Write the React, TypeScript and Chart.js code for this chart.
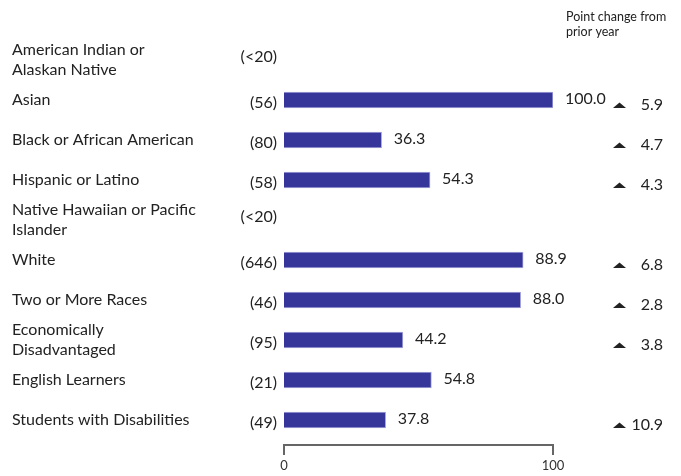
import React, { useEffect, useRef } from "react";
import { Chart, registerables } from "chart.js";

Chart.register(...registerables);

const categories: string[][] = [
  ["American Indian or", "Alaskan Native"],
  ["Asian"],
  ["Black or African American"],
  ["Hispanic or Latino"],
  ["Native Hawaiian or Pacific", "Islander"],
  ["White"],
  ["Two or More Races"],
  ["Economically", "Disadvantaged"],
  ["English Learners"],
  ["Students with Disabilities"],
];
const counts: string[] = ["(<20)", "(56)", "(80)", "(58)", "(<20)", "(646)", "(46)", "(95)", "(21)", "(49)"];
const values: (number | null)[] = [null, 100.0, 36.3, 54.3, null, 88.9, 88.0, 44.2, 54.8, 37.8];
const changes: (number | null)[] = [null, 5.9, 4.7, 4.3, null, 6.8, 2.8, 3.8, null, 10.9];
const xTicks: number[] = [0, 100];
const changeHeader: string[] = ["Point change from", "prior year"];

const FONT = "Lato, 'Noto Sans', sans-serif";
const BAR = "#35359a";
const TEXT = "#222222";

const overlay = {
  id: "overlay",
  afterDatasetsDraw(chart: any) {
    const ctx = chart.ctx as CanvasRenderingContext2D;
    const xs = chart.scales.x;
    const ys = chart.scales.y;
    ctx.save();
    ctx.fillStyle = TEXT;
    ctx.textBaseline = "middle";
    categories.forEach((lines, i) => {
      const cy = ys.getPixelForValue(i);
      ctx.font = `16px ${FONT}`;
      ctx.textAlign = "left";
      const start = cy - ((lines.length - 1) * 20) / 2;
      lines.forEach((l, j) => ctx.fillText(l, 12, start + j * 20));
      const v = values[i];
      ctx.textAlign = "right";
      ctx.fillText(counts[i], 277, v === null ? cy - 3 : cy + 3);
      if (v !== null) {
        ctx.textAlign = "left";
        ctx.fillText(v.toFixed(1), xs.getPixelForValue(v) + 12, cy - 1);
      }
      const c = changes[i];
      if (c !== null) {
        ctx.beginPath();
        ctx.moveTo(613, cy + 8);
        ctx.lineTo(626, cy + 8);
        ctx.lineTo(619.5, cy + 2.5);
        ctx.closePath();
        ctx.fill();
        ctx.textAlign = "right";
        ctx.fillText(c.toFixed(1), 663, cy + 5);
      }
    });
    // header
    ctx.font = `12.5px ${FONT}`;
    ctx.textAlign = "left";
    changeHeader.forEach((l, j) => ctx.fillText(l, 566, 17 + j * 15));
    // axis
    const ay = 445;
    const x0 = xs.getPixelForValue(xTicks[0]);
    const x1 = xs.getPixelForValue(xTicks[xTicks.length - 1]);
    ctx.strokeStyle = "#666666";
    ctx.lineWidth = 2;
    ctx.beginPath();
    ctx.moveTo(x0, ay + 10);
    ctx.lineTo(x0, ay);
    ctx.lineTo(x1, ay);
    ctx.lineTo(x1, ay + 10);
    ctx.stroke();
    ctx.textAlign = "center";
    ctx.font = `13px ${FONT}`;
    ctx.fillStyle = "#333333";
    xTicks.forEach((t) => ctx.fillText(String(t), xs.getPixelForValue(t), 466));
    ctx.restore();
  },
};

export default function App() {
  const ref = useRef<HTMLCanvasElement>(null);
  useEffect(() => {
    if (!ref.current) return;
    const chart = new Chart(ref.current, {
      type: "bar",
      data: {
        labels: categories.map((c) => c.join(" ")),
        datasets: [
          {
            data: values as any,
            backgroundColor: BAR,
            borderColor: "#a9a9dc",
            borderWidth: 1,
            barThickness: 16,
          },
        ],
      },
      options: {
        indexAxis: "y",
        animation: false,
        responsive: false,
        maintainAspectRatio: false,
        layout: { padding: { left: 284, right: 128, top: 40, bottom: 36 } },
        plugins: { legend: { display: false }, tooltip: { enabled: false } },
        scales: {
          x: { display: false, min: 0, max: 100 },
          y: { display: false, offset: true },
        },
      },
      plugins: [overlay],
    });
    return () => chart.destroy();
  }, []);
  return (
    <div style={{ position: "absolute", left: 0, top: 0, width: 681, height: 476, background: "#fff" }}>
      <canvas ref={ref} width={681} height={476} style={{ width: 681, height: 476 }} />
    </div>
  );
}
